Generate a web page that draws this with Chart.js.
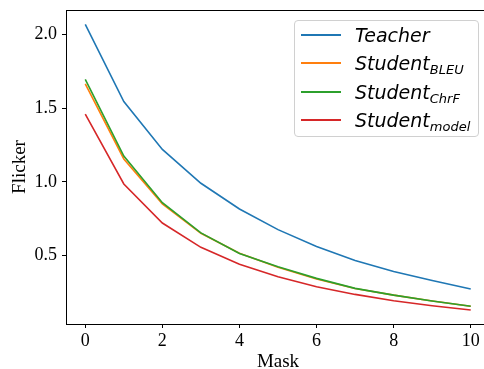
<!DOCTYPE html>
<html>
<head>
<meta charset="utf-8">
<script src="https://cdn.jsdelivr.net/npm/chart.js@4/dist/chart.umd.min.js"></script>
<style>
  html, body { margin: 0; padding: 0; overflow: hidden; background: #fff; }
  #wrap { position: relative; width: 484px; height: 369px; overflow: hidden; }
  #flickerChart { position: absolute; left: 0; top: 0; }
  #legend {
    position: absolute; left: 294px; top: 20px; width: 185px; height: 117px;
    border: 1px solid #d0d0d0; border-radius: 4px; background: rgba(255,255,255,0.85);
    box-sizing: border-box; padding-top: 0px;
    font-family: "DejaVu Sans", sans-serif; font-style: italic; font-size: 19px; color: #000;
  }
  .row { height: 28.3px; display: flex; align-items: center; }
  .sample { width: 40px; height: 2px; margin-left: 6px; margin-right: 14px; }
  .row sub { font-size: 13px; vertical-align: -4px; line-height: 0; }
</style>
</head>
<body>
<div id="wrap">
  <canvas id="flickerChart" width="491" height="369"></canvas>
  <div id="legend"></div>
</div>
<script>
var masks = [0, 1, 2, 3, 4, 5, 6, 7, 8, 9, 10];
var teacher = [2.07, 1.545, 1.22, 0.99, 0.815, 0.675, 0.56, 0.465, 0.39, 0.33, 0.272];
var studentBleu = [1.665, 1.155, 0.85, 0.65, 0.515, 0.42, 0.34, 0.275, 0.23, 0.19, 0.155];
var studentChrf = [1.695, 1.175, 0.858, 0.653, 0.513, 0.423, 0.344, 0.276, 0.23, 0.19, 0.155];
var studentModel = [1.46, 0.985, 0.72, 0.555, 0.44, 0.355, 0.287, 0.235, 0.192, 0.158, 0.129];
var seriesNames = ['Teacher', 'Student', 'Student', 'Student'];
var seriesSubs = ['', 'BLEU', 'ChrF', 'model'];
var xTicks = [0, 2, 4, 6, 8, 10];
var yTicks = [0.5, 1.0, 1.5, 2.0];

var colors = ['#1f77b4', '#ff7f0e', '#2ca02c', '#d62728'];
var allSeries = [teacher, studentBleu, studentChrf, studentModel];

function toPoints(values){
    return values.map(function(v, i){ return {x: masks[i], y: v}; });
}

// top/right spines like matplotlib
var framePlugin = {
    id: 'frame',
    afterDraw: function(chart){
        var a = chart.chartArea, ctx = chart.ctx;
        ctx.save();
        ctx.strokeStyle = '#000';
        ctx.lineWidth = 1;
        ctx.beginPath();
        ctx.moveTo(a.left, a.top + 0.5);
        ctx.lineTo(a.right, a.top + 0.5);
        ctx.lineTo(a.right, a.bottom);
        ctx.stroke();
        ctx.restore();
    }
};

var datasets = allSeries.map(function(values, i){
    return {
        label: seriesNames[i] + seriesSubs[i],
        data: toPoints(values),
        borderColor: colors[i],
        backgroundColor: colors[i],
        borderWidth: 1.6,
        pointRadius: 0,
        tension: 0,
        fill: false,
        order: allSeries.length - 1 - i
    };
});

var serif = '"Liberation Serif", "Times New Roman", serif';

var chart = new Chart(document.getElementById('flickerChart').getContext('2d'), {
    type: 'line',
    data: { datasets: datasets },
    options: {
        responsive: false,
        animation: false,
        devicePixelRatio: 1,
        layout: { padding: { top: 10, right: 1, left: 0, bottom: 0 } },
        plugins: { legend: { display: false }, tooltip: { enabled: false } },
        scales: {
            x: {
                type: 'linear',
                min: -0.5,
                max: 10.5,
                afterBuildTicks: function(scale){ scale.ticks = xTicks.map(function(v){ return {value: v}; }); },
                afterFit: function(scale){ scale.height = 45; scale.paddingLeft = 0; scale.paddingRight = 0; },
                grid: { drawOnChartArea: false, drawTicks: true, tickLength: 4, tickColor: '#000' },
                border: { color: '#000', width: 1 },
                ticks: { color: '#000', font: { family: serif, size: 18 }, padding: 2, maxRotation: 0 },
                title: { display: true, text: 'Mask', color: '#000', font: { family: serif, size: 19 }, padding: { top: 5, bottom: -4 } }
            },
            y: {
                type: 'linear',
                min: 0.034,
                max: 2.167,
                afterBuildTicks: function(scale){ scale.ticks = yTicks.map(function(v){ return {value: v}; }); },
                afterFit: function(scale){ scale.width = 66; scale.paddingTop = 0; scale.paddingBottom = 0; },
                grid: { drawOnChartArea: false, drawTicks: true, tickLength: 4, tickColor: '#000' },
                border: { color: '#000', width: 1 },
                ticks: { color: '#000', font: { family: serif, size: 18 }, padding: 5,
                    callback: function(v){ return v.toFixed(1); } },
                title: { display: true, text: 'Flicker', color: '#000', font: { family: serif, size: 19 }, padding: { top: 9, bottom: 0 } }
            }
        }
    },
    plugins: [framePlugin]
});

// legend with subscripts
var legend = document.getElementById('legend');
seriesNames.forEach(function(name, i){
    var row = document.createElement('div');
    row.className = 'row';
    var sample = document.createElement('span');
    sample.className = 'sample';
    sample.style.background = colors[i];
    var text = document.createElement('span');
    text.textContent = name;
    if(seriesSubs[i]){
        var sub = document.createElement('sub');
        sub.textContent = seriesSubs[i];
        text.appendChild(sub);
    }
    row.appendChild(sample);
    row.appendChild(text);
    legend.appendChild(row);
});
</script>
</body>
</html>
